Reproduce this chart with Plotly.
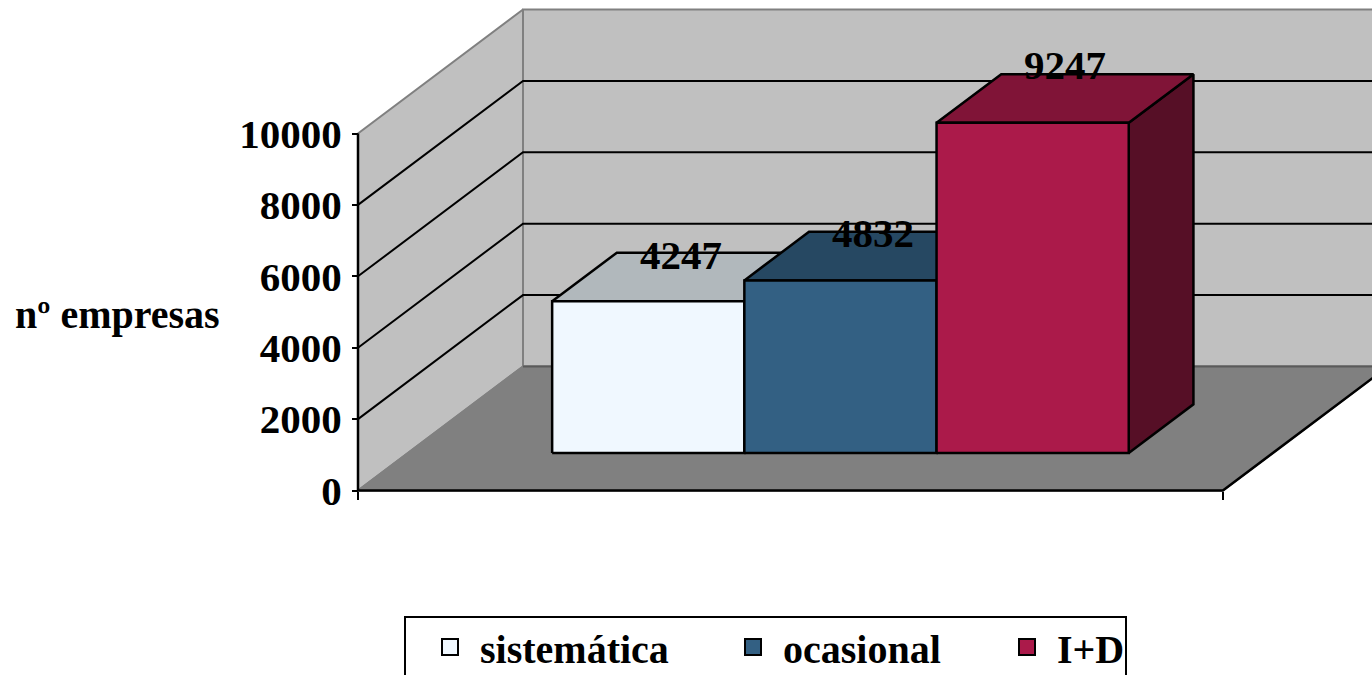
import plotly.graph_objects as go

# ---- data ----
categories = ["sistemática", "ocasional", "I+D"]
values = [4247, 4832, 9247]
y_ticks = [0, 2000, 4000, 6000, 8000, 10000]
face_colors = ["#F0F8FF", "#336083", "#AB1A4A"]
top_colors = ["#B1B8BC", "#264862", "#801437"]
side_colors = ["#5A5E60", "#1A3042", "#560F26"]
label_lift = [22, 23, 34]
legend_left_px = [420, 723, 997]

# ---- projection of the oblique 3D box, in axis units ----
W, H = 1372, 675
X0_PX, Y0_PX = 358, 490.5
PX_PER_CAT = 192.2
PX_PER_VAL = 0.0357
DEPTH_X = 165 / PX_PER_CAT
DEPTH_Y = 124 / PX_PER_VAL
GAP = 0.75
N_CAT = len(categories) + 2 * GAP
YMAX = y_ticks[-1]
D_FRONT, D_BACK = 0.303, 0.695


def P(c, v, d):
    return c + d * DEPTH_X, v + d * DEPTH_Y


def poly(points, fill, line, width=2.5):
    xs, ys = zip(*[P(*p) for p in points + points[:1]])
    return go.Scatter(x=xs, y=ys, mode="lines", fill="toself", fillcolor=fill,
                      line=dict(color=line, width=width), hoverinfo="skip",
                      showlegend=False)


def seg(points, color, width=2):
    xs, ys = zip(*[P(*p) for p in points])
    return go.Scatter(x=xs, y=ys, mode="lines", line=dict(color=color, width=width),
                      hoverinfo="skip", showlegend=False)


fig = go.Figure()
# walls and floor
fig.add_trace(poly([(0, 0, 0), (0, YMAX, 0), (0, YMAX, 1), (0, 0, 1)], "#C0C0C0", "#808080", 2))
fig.add_trace(poly([(0, 0, 1), (0, YMAX, 1), (N_CAT, YMAX, 1), (N_CAT, 0, 1)], "#C0C0C0", "#808080", 2))
# gridlines
for t in y_ticks[1:-1]:
    fig.add_trace(seg([(0, t, 0), (0, t, 1), (N_CAT, t, 1)], "#000000"))
fig.add_trace(poly([(0, 0, 0), (N_CAT, 0, 0), (N_CAT, 0, 1), (0, 0, 1)], "#808080", "#808080", 2))
# outer black edges
fig.add_trace(seg([(0, YMAX, 0), (0, 0, 0), (N_CAT, 0, 0), (N_CAT, 0, 1)], "#000000", 2.5))
fig.add_trace(seg([(0, 0, 1), (N_CAT, 0, 1)], "#5A5A5A", 2))

# bars
for i, v in enumerate(values):
    a, b = GAP + i, GAP + i + 1
    fig.add_trace(poly([(b, 0, D_FRONT), (b, v, D_FRONT), (b, v, D_BACK), (b, 0, D_BACK)], side_colors[i], "#000000"))
    fig.add_trace(poly([(a, v, D_FRONT), (b, v, D_FRONT), (b, v, D_BACK), (a, v, D_BACK)], top_colors[i], "#000000"))
    fig.add_trace(poly([(a, 0, D_FRONT), (b, 0, D_FRONT), (b, v, D_FRONT), (a, v, D_FRONT)], face_colors[i], "#000000"))

# legend entries: one legend per entry so that each sits at its own place
legend_layout = {}
for i, (c, col) in enumerate(zip(categories, face_colors)):
    name = "legend" if i == 0 else f"legend{i + 1}"
    fig.add_trace(go.Scatter(x=[None], y=[None], mode="markers", name=c, legend=name,
                             marker=dict(symbol="square", size=16, color=col,
                                         line=dict(color="#000000", width=2))))
    legend_layout[name] = dict(
        x=legend_left_px[i] / W, xanchor="left", y=1 - 647 / H, yanchor="middle",
        itemwidth=50, bgcolor="rgba(0,0,0,0)", borderwidth=0,
        font=dict(family="Liberation Serif", size=40, color="#000000", weight="bold"),
        itemclick=False, itemdoubleclick=False)

# legend frame (runs off the bottom edge, as in the reference)
fig.add_shape(type="rect", xref="paper", yref="paper", x0=405 / W, x1=1126 / W,
              y0=1 - 690 / H, y1=1 - 617 / H, line=dict(color="#000000", width=2),
              fillcolor="#FFFFFF", layer="below")

# value labels
for i, v in enumerate(values):
    lx, ly = P(GAP + i + 0.5, v, (D_FRONT + D_BACK) / 2)
    fig.add_annotation(x=lx, y=ly, text=f"<b>{v}</b>", showarrow=False, yshift=label_lift[i],
                       font=dict(family="Liberation Serif", size=41, color="#000000"))

fig.add_annotation(xref="paper", yref="paper", x=117 / W, y=1 - 314 / H,
                   xanchor="center", yanchor="middle",
                   text="<b>nº empresas</b>", showarrow=False,
                   font=dict(family="Liberation Serif", size=40, color="#000000"))

fig.update_layout(
    width=W, height=H, autosize=False,
    margin=dict(l=0, r=0, t=0, b=0, pad=0, autoexpand=False),
    paper_bgcolor="#FFFFFF", plot_bgcolor="rgba(0,0,0,0)",
    xaxis=dict(range=[-X0_PX / PX_PER_CAT, (W - X0_PX) / PX_PER_CAT],
               showgrid=False, zeroline=False, showline=False,
               tickvals=[0, N_CAT], ticktext=["", ""], ticks="outside", ticklen=8,
               tickwidth=2, tickcolor="#000000",
               anchor="free", position=(H - Y0_PX) / H),
    yaxis=dict(range=[(Y0_PX - H) / PX_PER_VAL, Y0_PX / PX_PER_VAL],
               showgrid=False, zeroline=False, showline=False,
               tickvals=y_ticks, tickformat="d", ticks="outside", ticklen=6, tickwidth=2,
               tickcolor="#000000", ticklabelstandoff=2,
               tickfont=dict(family="Liberation Serif", size=41, color="#000000", weight="bold"),
               anchor="free", position=X0_PX / W),
    showlegend=True,
    **legend_layout,
)

fig.write_html("out.html", config={"displayModeBar": False},
               post_script="document.body.style.margin='0';")
